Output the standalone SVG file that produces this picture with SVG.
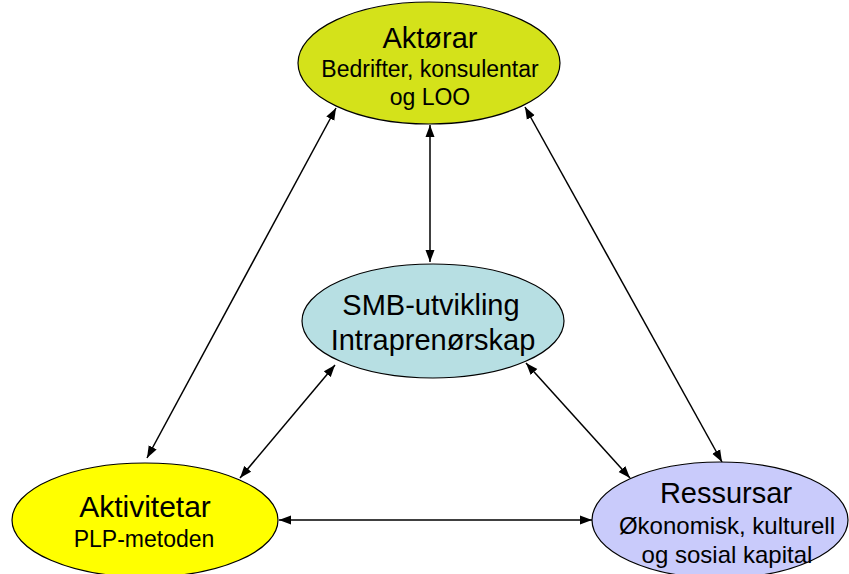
<svg xmlns="http://www.w3.org/2000/svg" width="849" height="574" viewBox="0 0 849 574">
<defs>
<marker id="ah" viewBox="0 0 12 10" refX="12" refY="5" markerWidth="12" markerHeight="10" markerUnits="userSpaceOnUse" orient="auto-start-reverse">
<path d="M0,0.5 L12,5 L0,9.5 Z" fill="#000"/>
</marker>
<style>
.n{stroke:#000;stroke-width:1.2}
.t{font-family:"Liberation Sans",Arial,sans-serif;fill:#000;text-anchor:middle}
.c line{stroke:#000;stroke-width:1.5;marker-start:url(#ah);marker-end:url(#ah)}
</style>
</defs>
<rect width="849" height="574" fill="#fff"/>
<g class="c" id="connectors">
<line x1="430" y1="125" x2="430" y2="262"/>
<line x1="336" y1="108" x2="147" y2="458"/>
<line x1="525" y1="107" x2="722" y2="462"/>
<line x1="335" y1="365" x2="240" y2="478"/>
<line x1="526" y1="363" x2="630" y2="478"/>
<line x1="279" y1="520" x2="592" y2="520"/>
</g>
<g id="aktorar">
<ellipse class="n" cx="429" cy="63" rx="131" ry="61" fill="#D4E21A"/>
<text class="t" x="430" y="48" font-size="29">Aktørar</text>
<text class="t" x="430" y="77" font-size="23">Bedrifter, konsulentar</text>
<text class="t" x="430" y="105" font-size="23">og LOO</text>
</g>
<g id="smb">
<ellipse class="n" cx="433" cy="321" rx="131" ry="57" fill="#B7DFE3"/>
<text class="t" x="431" y="315" font-size="29">SMB-utvikling</text>
<text class="t" x="433" y="350" font-size="29">Intraprenørskap</text>
</g>
<g id="aktivitetar">
<ellipse class="n" cx="145" cy="520" rx="133" ry="57" fill="#FFFF00"/>
<text class="t" x="145" y="517" font-size="30">Aktivitetar</text>
<text class="t" x="144" y="547" font-size="23">PLP-metoden</text>
</g>
<g id="ressursar">
<ellipse class="n" cx="720" cy="520" rx="128" ry="58" fill="#C9CBFB"/>
<text class="t" x="726" y="503" font-size="29">Ressursar</text>
<text class="t" x="727" y="534" font-size="24">Økonomisk, kulturell</text>
<text class="t" x="727" y="563" font-size="24">og sosial kapital</text>
</g>
</svg>
